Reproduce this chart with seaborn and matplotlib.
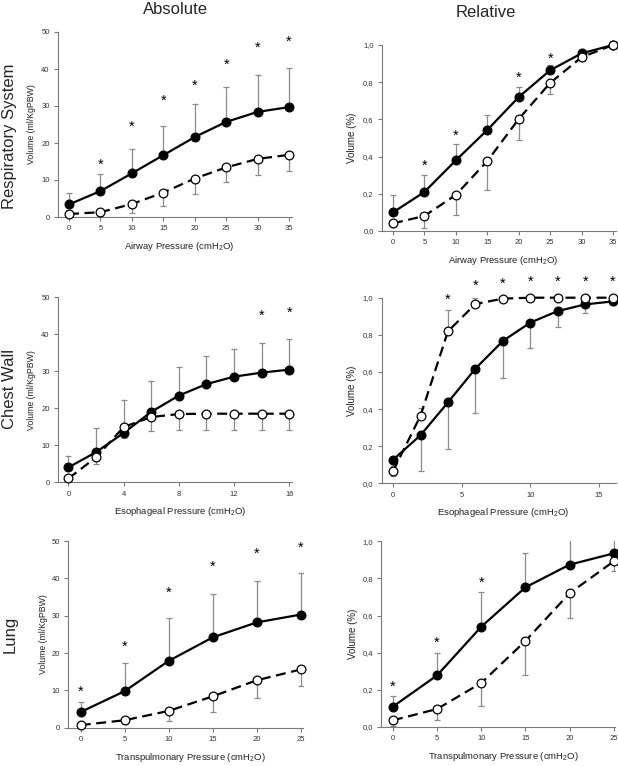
import matplotlib
matplotlib.use("Agg")
import matplotlib.pyplot as plt
import matplotlib.transforms as mtrans
import seaborn as sns
import numpy as np

sns.set_style("ticks")
plt.rcParams['font.family'] = ['Liberation Sans', 'DejaVu Sans']
plt.rcParams['mathtext.fontset'] = 'custom'
plt.rcParams['mathtext.rm'] = 'Liberation Sans'
plt.rcParams['mathtext.it'] = 'Liberation Sans:italic'
plt.rcParams['mathtext.bf'] = 'Liberation Sans:bold'

# ---------------- data ----------------
# Respiratory system
rs_x = [0, 5, 10, 15, 20, 25, 30, 35]
rs_abs_filled = [3.4, 7.0, 11.8, 16.7, 21.6, 25.7, 28.4, 29.7]
rs_abs_filled_sd = [3.0, 4.5, 6.6, 8.0, 8.9, 9.5, 10.1, 10.6]
rs_abs_open = [0.8, 1.3, 3.5, 6.6, 10.4, 13.4, 15.7, 16.8]
rs_abs_open_sd = [0.6, 1.0, 2.3, 3.6, 4.1, 4.0, 4.4, 4.4]
rs_abs_star_x = [5, 10, 15, 20, 25, 30, 35]
rs_abs_star_y = [15.0, 25.1, 32.1, 36.3, 41.9, 46.6, 48.3]

rs_rel_filled = [0.100, 0.210, 0.380, 0.543, 0.720, 0.864, 0.955, 1.0]
rs_rel_filled_sd = [0.095, 0.090, 0.088, 0.081, 0.052, 0.027, 0.015, 0.0]
rs_rel_open = [0.041, 0.081, 0.194, 0.376, 0.602, 0.796, 0.934, 1.0]
rs_rel_open_sd = [0.02, 0.065, 0.110, 0.157, 0.115, 0.059, 0.018, 0.0]
rs_rel_star_x = [5, 10, 20, 25]
rs_rel_star_y = [0.367, 0.530, 0.839, 0.941]

# Chest wall
cw_x = [0, 2, 4, 6, 8, 10, 12, 14, 16]
cw_abs_filled = [4.1, 8.2, 13.4, 19.1, 23.5, 26.6, 28.6, 29.7, 30.5]
cw_abs_filled_sd = [3.0, 6.5, 8.9, 8.4, 7.8, 7.5, 7.6, 8.1, 8.3]
cw_abs_open = [1.1, 6.8, 15.0, 17.7, 18.5, 18.6, 18.6, 18.6, 18.6]
cw_abs_open_sd = [0.5, 1.7, 2.9, 3.7, 4.2, 4.3, 4.3, 4.3, 4.3]
cw_abs_star_x = [14, 16]
cw_abs_star_y = [45.9, 46.8]

cw_rel_filled = [0.127, 0.259, 0.436, 0.618, 0.767, 0.866, 0.928, 0.964, 0.980]
cw_rel_filled_sd = [0.087, 0.191, 0.251, 0.237, 0.198, 0.139, 0.084, 0.045, 0.018]
cw_rel_open = [0.065, 0.364, 0.819, 0.966, 0.995, 1.0, 1.0, 1.0, 1.0]
cw_rel_open_sd = [0.03, 0.044, 0.115, 0.032, 0.005, 0.0, 0.0, 0.0, 0.0]
cw_rel_star_x = [4, 6, 8, 10, 12, 14, 16]
cw_rel_star_y = [1.005, 1.083, 1.092, 1.10, 1.10, 1.10, 1.10]

# Lung
lu_x = [0, 5, 10, 15, 20, 25]
lu_abs_filled = [4.2, 9.8, 17.9, 24.2, 28.2, 30.3]
lu_abs_filled_sd = [2.8, 7.5, 11.4, 11.5, 11.0, 11.2]
lu_abs_open = [0.7, 2.0, 4.5, 8.4, 12.7, 15.6]
lu_abs_open_sd = [0.5, 1.0, 2.7, 4.3, 4.8, 4.5]
lu_abs_star_x = [0, 5, 10, 15, 20, 25]
lu_abs_star_y = [10.4, 22.6, 36.9, 44.0, 47.4, 49.1]

lu_rel_filled = [0.110, 0.278, 0.540, 0.752, 0.874, 0.935]
lu_rel_filled_sd = [0.055, 0.122, 0.185, 0.183, 0.14, 0.10]
lu_rel_open = [0.036, 0.097, 0.237, 0.463, 0.720, 0.892]
lu_rel_open_sd = [0.029, 0.059, 0.124, 0.185, 0.133, 0.052]
lu_rel_star_x = [0, 5, 10]
lu_rel_star_y = [0.233, 0.469, 0.795]

abs_yticks = [0, 10, 20, 30, 40, 50]
abs_yticklabels = ["0", "10", "20", "30", "40", "50"]
rel_yticks = [0.0, 0.2, 0.4, 0.6, 0.8, 1.0]
rel_yticklabels = ["0,0", "0,2", "0,4", "0,6", "0,8", "1,0"]
rs_xticks = [0, 5, 10, 15, 20, 25, 30, 35]
cw_abs_xticks = [0, 4, 8, 12, 16]
cw_rel_xticks = [0, 5, 10, 15]
lu_xticks = [0, 5, 10, 15, 20, 25]

col_titles = ["Absolute", "Relative"]
row_titles = ["Respiratory System", "Chest Wall", "Lung"]
xlabels = ["Airway Pressure (cmH$_2$O)", "Esophageal Pressure (cmH$_2$O)",
           "Transpulmonary Pressure (cmH$_2$O)"]
ylabel_abs = "Volume (ml/KgPBW)"
ylabel_rel = "Volume (%)"

# ---------------- figure ----------------
W, H = 618, 766
fig = plt.figure(figsize=(W / 100, H / 100), dpi=100)

GREY = "#7a7a7a"
ERR = "#8c8c8c"
TICKC = "#333333"


def add_ax(L, R, T, B):
    return fig.add_axes([L / W, 1 - B / H, (R - L) / W, (B - T) / H])


def draw(ax, box, x, f, fsd, fdir, o, osd, odir, sx, sy, xlim, ylim,
         xticks, yticks, yticklabels, xlabel, ylabel, ylab_off):
    L, R, T, B = box
    x = np.asarray(x, float)
    f = np.asarray(f, float)
    o = np.asarray(o, float)
    fsd = np.asarray(fsd, float)
    osd = np.asarray(osd, float)
    z = np.zeros_like(x)
    fy = [z, fsd] if fdir == "up" else [fsd, z]
    oy = [z, osd] if odir == "up" else [osd, z]
    ax.errorbar(x, f, yerr=fy, fmt="none", ecolor=ERR, elinewidth=0.9,
                capsize=2.2, capthick=0.9, zorder=1)
    ax.errorbar(x, o, yerr=oy, fmt="none", ecolor=ERR, elinewidth=0.9,
                capsize=2.2, capthick=0.9, zorder=1)
    sns.lineplot(x=x, y=f, ax=ax, color="black", lw=1.6, marker="o",
                 markersize=6.3, markerfacecolor="black",
                 markeredgecolor="black", markeredgewidth=0.9,
                 clip_on=False, zorder=3, estimator=None, sort=False)
    sns.lineplot(x=x, y=o, ax=ax, color="black", lw=1.6, marker="o",
                 markersize=6.3, markerfacecolor="white",
                 markeredgecolor="black", markeredgewidth=0.9,
                 linestyle=(0, (4.5, 2.5)), clip_on=False, zorder=4,
                 estimator=None, sort=False)
    star_tr = ax.transData + mtrans.ScaledTranslation(0, -3 / 100,
                                                      fig.dpi_scale_trans)
    for xs, ys in zip(sx, sy):
        ax.text(xs, ys, "*", ha="center", va="center", fontsize=10.5,
                color="black", clip_on=False, transform=star_tr)
    ax.set_xlim(*xlim)
    ax.set_ylim(*ylim)
    ax.set_xticks(xticks)
    ax.set_xticklabels([str(t) for t in xticks])
    ax.set_yticks(yticks)
    ax.set_yticklabels(yticklabels)
    for s in ["top", "right"]:
        ax.spines[s].set_visible(False)
    for s in ["left", "bottom"]:
        ax.spines[s].set_color(GREY)
        ax.spines[s].set_linewidth(0.8)
    ax.tick_params(axis="both", direction="out", length=3, width=0.8,
                   color=GREY, labelsize=5.5, labelcolor=TICKC, pad=3)
    w = R - L
    h = B - T
    ax.set_xlabel(xlabel, fontsize=6.8, color="#222222", va="center")
    ax.xaxis.set_label_coords(0.5 + 5 / w, -29.5 / h)
    ax.set_ylabel(ylabel, fontsize=ylab_off[1], color="#222222", va="center")
    ax.yaxis.set_label_coords(-ylab_off[0] / w, 0.5)


boxes = {
    "rs_abs": (58, 291.5, 32, 217),
    "rs_rel": (382, 615.5, 45, 231),
    "cw_abs": (58, 292, 297.5, 482.5),
    "cw_rel": (381.5, 615.5, 297.7, 483.3),
    "lu_abs": (68.3, 303, 541, 727.7),
    "lu_rel": (381.3, 615, 541.3, 727),
}

ax = add_ax(*boxes["rs_abs"])
draw(ax, boxes["rs_abs"], rs_x, rs_abs_filled, rs_abs_filled_sd, "up",
     rs_abs_open, rs_abs_open_sd, "down", rs_abs_star_x, rs_abs_star_y,
     (-1.75, 35.4), (0, 50), rs_xticks, abs_yticks, abs_yticklabels,
     xlabels[0], ylabel_abs, (26, 6.3))

ax = add_ax(*boxes["rs_rel"])
draw(ax, boxes["rs_rel"], rs_x, rs_rel_filled, rs_rel_filled_sd, "up",
     rs_rel_open, rs_rel_open_sd, "down", rs_rel_star_x, rs_rel_star_y,
     (-1.75, 35.4), (0, 1.0), rs_xticks, rel_yticks, rel_yticklabels,
     xlabels[0], ylabel_rel, (30, 7.0))

ax = add_ax(*boxes["cw_abs"])
draw(ax, boxes["cw_abs"], cw_x, cw_abs_filled, cw_abs_filled_sd, "up",
     cw_abs_open, cw_abs_open_sd, "down", cw_abs_star_x, cw_abs_star_y,
     (-0.76, 16.2), (0, 50), cw_abs_xticks, abs_yticks, abs_yticklabels,
     xlabels[1], ylabel_abs, (26, 6.3))

ax = add_ax(*boxes["cw_rel"])
draw(ax, boxes["cw_rel"], cw_x, cw_rel_filled, cw_rel_filled_sd, "down",
     cw_rel_open, cw_rel_open_sd, "up", cw_rel_star_x, cw_rel_star_y,
     (-0.84, 16.2), (0, 1.0), cw_rel_xticks, rel_yticks, rel_yticklabels,
     xlabels[1], ylabel_rel, (29.5, 7.0))

ax = add_ax(*boxes["lu_abs"])
draw(ax, boxes["lu_abs"], lu_x, lu_abs_filled, lu_abs_filled_sd, "up",
     lu_abs_open, lu_abs_open_sd, "down", lu_abs_star_x, lu_abs_star_y,
     (-1.41, 25.25), (0, 50), lu_xticks, abs_yticks, abs_yticklabels,
     xlabels[2], ylabel_abs, (25, 6.3))

ax = add_ax(*boxes["lu_rel"])
draw(ax, boxes["lu_rel"], lu_x, lu_rel_filled, lu_rel_filled_sd, "up",
     lu_rel_open, lu_rel_open_sd, "down", lu_rel_star_x, lu_rel_star_y,
     (-1.32, 25.15), (0, 1.0), lu_xticks, rel_yticks, rel_yticklabels,
     xlabels[2], ylabel_rel, (28.5, 7.0))

# column and row titles
fig.text(175 / W, 1 - 9.5 / H, col_titles[0], ha="center", va="center",
         fontsize=12)
fig.text(486 / W, 1 - 12.5 / H, col_titles[1], ha="center", va="center",
         fontsize=12)
for yc, t in zip([136, 389, 634], row_titles):
    fig.text(10 / W, 1 - yc / H, t, ha="center", va="center",
             rotation=90, fontsize=12)

fig.savefig("out.png", dpi=100)
